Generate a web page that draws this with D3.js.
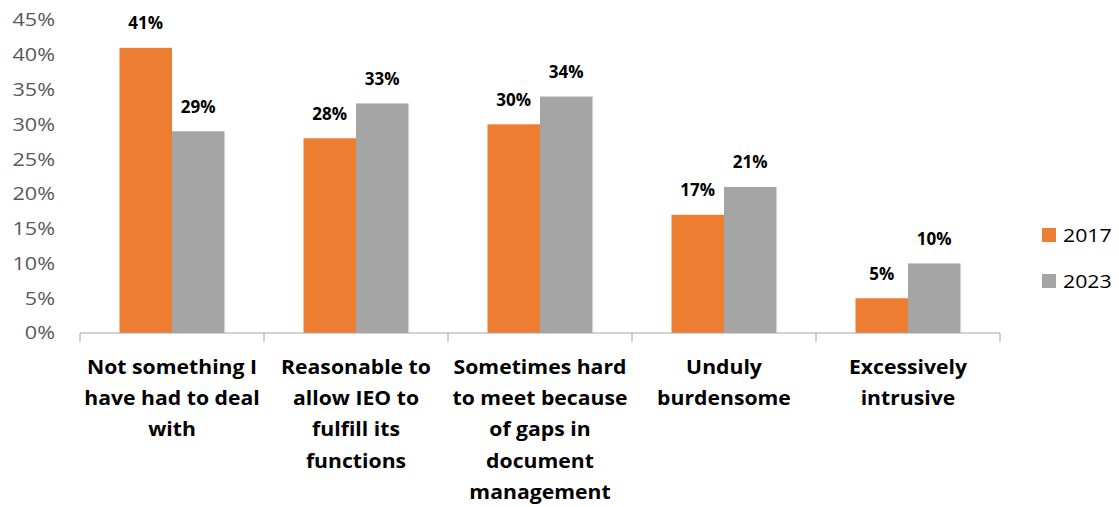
<!DOCTYPE html>
<html>
<head>
<meta charset="utf-8">
<script src="https://cdn.jsdelivr.net/npm/d3@7"></script>
<style>
  html, body { margin: 0; padding: 0; background: #fff; }
  svg { display: block; font-family: "Open Sans", "Noto Sans", sans-serif; }
</style>
</head>
<body>
<svg id="chart" width="1119" height="507"></svg>
<script>
// Survey responses, share of respondents per answer
const categories = [
  "Not something I\nhave had to deal\nwith",
  "Reasonable to\nallow IEO to\nfulfill its\nfunctions",
  "Sometimes hard\nto meet because\nof gaps in\ndocument\nmanagement",
  "Unduly\nburdensome",
  "Excessively\nintrusive"
];
const seriesNames = ["2017", "2023"];
const values2017 = [41, 28, 30, 17, 5];
const values2023 = [29, 33, 34, 21, 10];
const yTicks = [0, 5, 10, 15, 20, 25, 30, 35, 40, 45];

const colors = { "2017": "#ED7D31", "2023": "#A5A5A5" };

const svg = d3.select("#chart");

const x0 = d3.scaleBand().domain(categories).range([80, 1000]).padding(0);
const bw = x0.bandwidth();
const x1 = d3.scaleBand().domain(seriesNames).range([bw * 0.2147, bw * 0.7853]).padding(0);
const y = d3.scaleLinear().domain([0, 45]).range([333, 20]);

const rows = categories.map((c, i) => ({
  cat: c,
  vals: [
    { s: "2017", v: values2017[i] },
    { s: "2023", v: values2023[i] }
  ]
}));

// y-axis labels (no axis line, no gridlines); slightly widened glyphs
svg.append("g").selectAll("text")
  .data(yTicks)
  .join("text")
  .attr("transform", d => `translate(55,${y(d)}) scale(1.2,1)`)
  .attr("dy", "0.36em")
  .attr("text-anchor", "end")
  .attr("fill", "#595959")
  .attr("font-size", 18)
  .text(d => d + "%");

// bars
const groups = svg.append("g").selectAll("g")
  .data(rows)
  .join("g")
  .attr("transform", d => `translate(${x0(d.cat)},0)`);

groups.selectAll("rect")
  .data(d => d.vals)
  .join("rect")
  .attr("x", d => x1(d.s))
  .attr("width", x1.bandwidth())
  .attr("y", d => y(d.v))
  .attr("height", d => y(0) - y(d.v))
  .attr("fill", d => colors[d.s]);

// value labels
groups.selectAll("text.val")
  .data(d => d.vals)
  .join("text")
  .attr("class", "val")
  .attr("x", d => x1(d.s) + x1.bandwidth() / 2)
  .attr("y", d => y(d.v) - 18.5)
  .attr("text-anchor", "middle")
  .attr("font-size", 17)
  .attr("font-weight", "bold")
  .attr("fill", "#000")
  .text(d => d.v + "%");

// x axis: baseline with category separator ticks
const axis = svg.append("g").attr("transform", `translate(0,${y(0)})`);
axis.append("line")
  .attr("x1", 80).attr("x2", 1000)
  .attr("stroke", "#A6A6A6").attr("stroke-width", 1);
const bounds = categories.map(c => x0(c)).concat([x0.range()[1]]);
axis.selectAll("line.tick")
  .data(bounds)
  .join("line")
  .attr("class", "tick")
  .attr("x1", d => d).attr("x2", d => d)
  .attr("y1", 0).attr("y2", 9)
  .attr("stroke", "#A6A6A6").attr("stroke-width", 1);

// category labels, one line per tspan
const catLabels = svg.append("g").selectAll("text")
  .data(categories)
  .join("text")
  .attr("transform", d => `translate(${x0(d) + bw / 2},374) scale(1.06,1)`)
  .attr("text-anchor", "middle")
  .attr("font-size", 20)
  .attr("font-weight", "bold")
  .attr("fill", "#000");
catLabels.selectAll("tspan")
  .data(d => d.split("\n"))
  .join("tspan")
  .attr("x", 0)
  .attr("dy", (d, i) => i === 0 ? 0 : 31.2)
  .text(d => d);

// legend
const legend = svg.append("g").selectAll("g")
  .data(seriesNames)
  .join("g")
  .attr("transform", (d, i) => `translate(1042,${228 + i * 46})`);
legend.append("rect")
  .attr("width", 14).attr("height", 14)
  .attr("fill", d => colors[d]);
legend.append("text")
  .attr("transform", "translate(21,7) scale(1.12,1)")
  .attr("dy", "0.36em")
  .attr("font-size", 19)
  .attr("fill", "#000")
  .text(d => d);
</script>
</body>
</html>
